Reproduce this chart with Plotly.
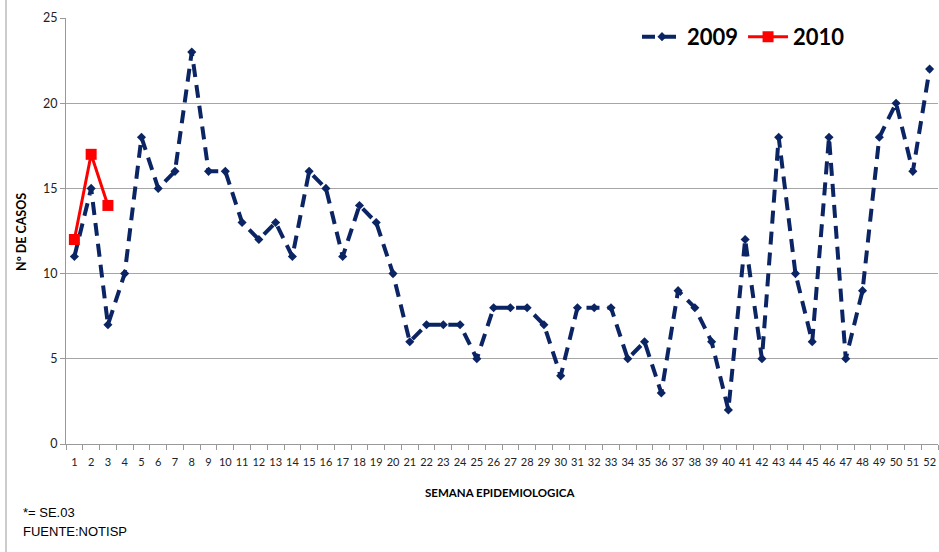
import plotly.graph_objects as go

semanas = list(range(1, 53))
casos_2009 = [11, 15, 7, 10, 18, 15, 16, 23, 16, 16, 13, 12, 13, 11, 16, 15, 11, 14, 13, 10,
              6, 7, 7, 7, 5, 8, 8, 8, 7, 4, 8, 8, 8, 5, 6, 3, 9, 8, 6, 2,
              12, 5, 18, 10, 6, 18, 5, 9, 18, 20, 16, 22]
semanas_2010 = [1, 2, 3]
casos_2010 = [12, 17, 14]
y_ticks = [0, 5, 10, 15, 20, 25]

W, H = 939, 552
L, R, T, B = 66, 1, 18, 108
pw, ph = W - L - R, H - T - B

fig = go.Figure()
fig.add_trace(go.Scatter(
    x=semanas, y=casos_2009, name="2009", mode="lines+markers",
    line=dict(color="#0B2463", width=4, dash="13px,8px"),
    marker=dict(symbol="diamond", size=7, color="#0B2463"),
))
fig.add_trace(go.Scatter(
    x=semanas_2010, y=casos_2010, name="2010", mode="lines+markers",
    line=dict(color="#FF0000", width=3),
    marker=dict(symbol="square", size=11, color="#FF0000"),
))

fig.update_layout(
    width=W, height=H,
    margin=dict(l=L, r=R, t=T, b=B, autoexpand=False),
    paper_bgcolor="white", plot_bgcolor="white",
    font=dict(family="Lato, Open Sans, sans-serif", color="#222"),
    showlegend=True,
    legend=dict(
        orientation="h", x=(850 - L) / pw, y=1.005, xanchor="right", yanchor="top",
        font=dict(size=22, family="Lato, sans-serif", color="black", weight="bold"),
        bgcolor="rgba(0,0,0,0)", itemwidth=40, tracegroupgap=0,
    ),
    xaxis=dict(
        range=[0.5, 52.5], tickvals=semanas, ticktext=[str(s) for s in semanas],
        ticks="", showgrid=False, zeroline=False,
        showline=True, linecolor="#999", linewidth=1,
        tickfont=dict(size=11, color="#222"),
        minor=dict(ticks="outside", tick0=0.5, dtick=1, ticklen=5, tickcolor="#999", showgrid=False),
        ticklabelstandoff=8, automargin=False,
    ),
    yaxis=dict(
        range=[0, 25], tickvals=y_ticks, showgrid=True, gridcolor="#A6A6A6", gridwidth=1,
        zeroline=False, showline=True, linecolor="#999", linewidth=1,
        ticks="outside", ticklen=5, tickcolor="#999",
        tickfont=dict(size=12.5, color="#222"), automargin=False,
    ),
)

# Axis titles as annotations
fig.add_annotation(
    text="<b>Nº DE CASOS</b>", xref="paper", yref="paper",
    x=(22 - L) / pw, y=(H - B - 232) / ph, textangle=-90, showarrow=False,
    font=dict(size=12.5, family="Lato, sans-serif", color="black"),
    xanchor="center", yanchor="middle",
)
fig.add_annotation(
    text="<b>SEMANA EPIDEMIOLOGICA</b>", xref="paper", yref="paper",
    x=(500 - L) / pw, y=-(492 - (H - B)) / ph, showarrow=False,
    font=dict(size=11.5, family="Lato, sans-serif", color="black"),
    xanchor="center", yanchor="middle",
)
# Footnotes
fig.add_annotation(
    text="*= SE.03", xref="paper", yref="paper",
    x=(21 - L) / pw, y=-(512 - (H - B)) / ph, showarrow=False,
    font=dict(size=13, family="Liberation Sans Narrow, Liberation Sans, sans-serif", color="black"),
    xanchor="left", yanchor="middle",
)
fig.add_annotation(
    text="FUENTE:NOTISP", xref="paper", yref="paper",
    x=(21 - L) / pw, y=-(531 - (H - B)) / ph, showarrow=False,
    font=dict(size=13, family="Liberation Sans Narrow, Liberation Sans, sans-serif", color="black"),
    xanchor="left", yanchor="middle",
)
# Chart-area left border
fig.add_shape(
    type="line", xref="paper", yref="paper",
    x0=(6 - L) / pw, x1=(6 - L) / pw, y0=-(B + 5) / ph, y1=1 + (T + 5) / ph,
    line=dict(color="#999", width=1),
)

fig.write_html("out.html", config={"displayModeBar": False},
               post_script="document.body.style.margin='0';")
